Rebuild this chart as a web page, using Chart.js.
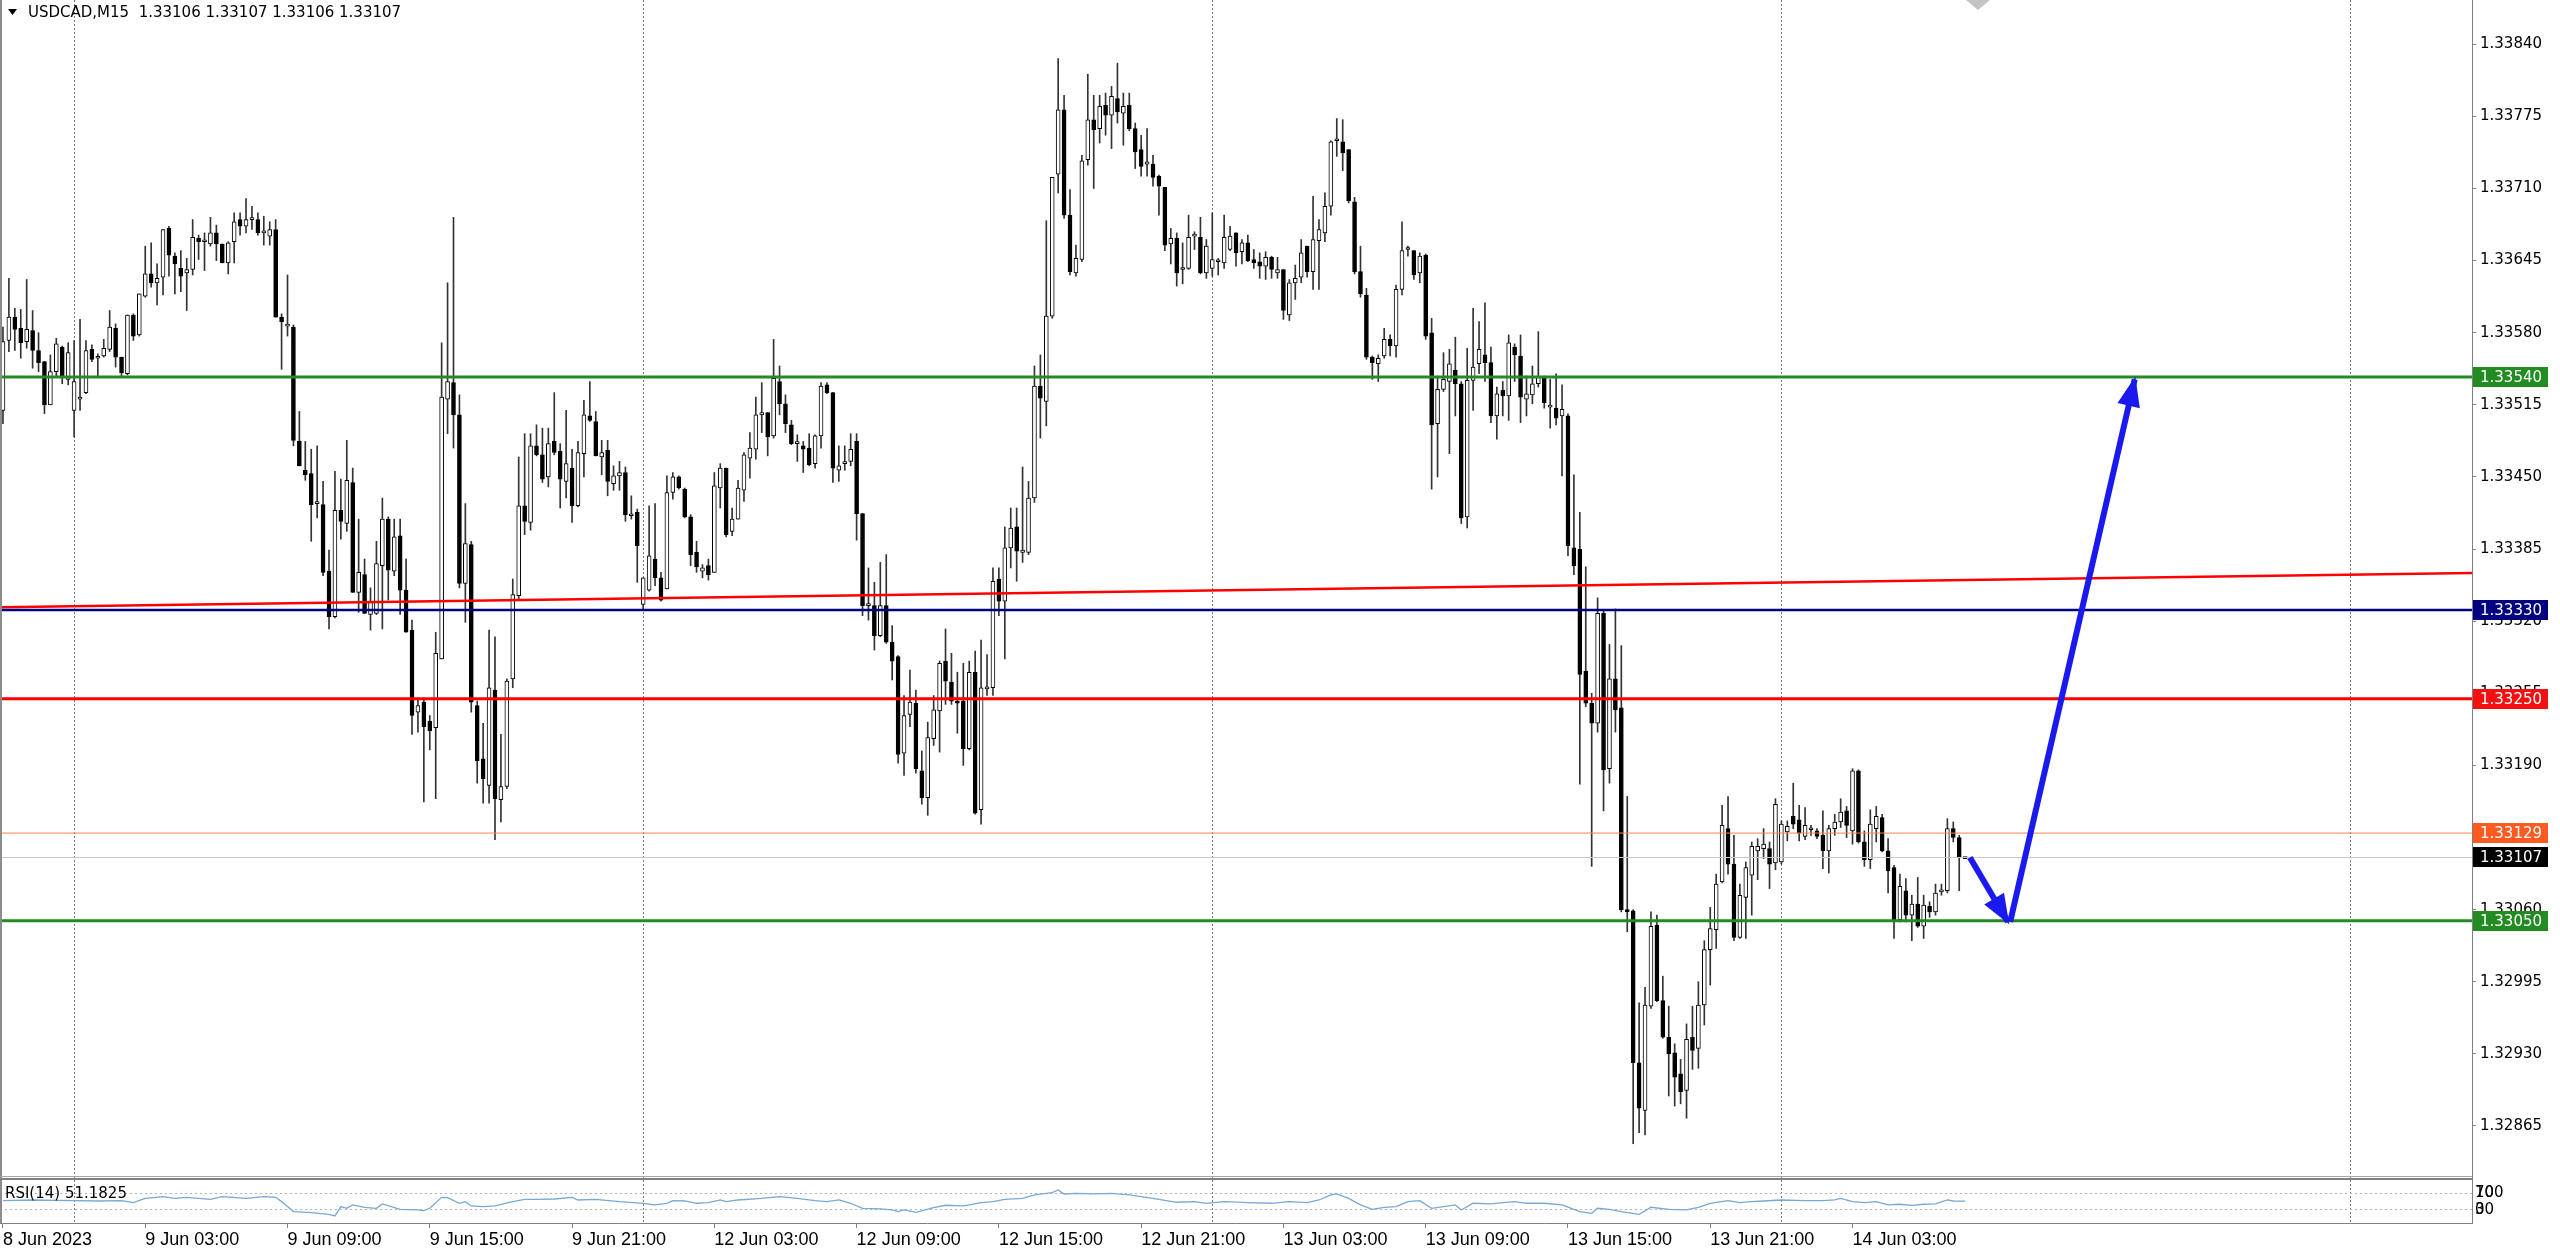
<!DOCTYPE html>
<html lang="en">
<head>
<meta charset="UTF-8">
<title>USDCAD,M15</title>
<script src="https://cdn.jsdelivr.net/npm/chart.js"></script>
<style>
  html, body { margin: 0; padding: 0; background: #fff; overflow: hidden; }
  canvas { display: block; }
</style>
</head>
<body>
<canvas id="chart" width="2560" height="1251"></canvas>
<script>
// USDCAD M15, bar 0 = 8 Jun 21:00, last bar = 14 Jun 07:45
// candle values are points (0.00001) above 1.33000
const BASE = 1.33;
const PT = 0.00001;

const openPts = [
  510,573,594,584,572,582,564,554,515,545, 567,538,510,520,526,565,557,559,565,584,
  558,543,596,578,613,633,625,630,674,649, 638,634,637,665,662,660,670,660,643,662,
  682,676,682,682,670,667,673,594,586,585, 482,456,453,426,425,365,324,420,408,445,
  346,362,326,327,370,412,365,397,348,312, 238,247,230,224,286,520,535,506,354,389,
  244,196,172,258,159,171,268,343,424,409, 478,470,450,482,473,446,458,424,471,505,
  500,468,474,444,451,454,415,418,335,348, 376,359,349,436,450,439,414,382,365,370,
  364,440,458,401,412,438,467,475,506,508, 487,536,516,497,480,478,476,462,487,533,
  526,456,462,464,482,417,334,334,307,334, 301,288,201,236,246,185,161,214,239,284,
  265,248,248,205,274,150,259,260,358,338, 386,405,382,382,431,532,518,595,723,781,
  686,634,646,736,772,764,785,776,791,778, 785,764,745,732,732,721,711,660,665,637,
  638,667,666,634,638,644,643,655,670,653, 661,646,644,640,648,634,637,596,625,630,
  658,635,663,670,694,753,752,745,698,635, 614,558,552,559,574,568,619,655,654,634,
  650,580,498,529,536,546,534,414,537,552, 560,553,505,528,523,567,559,520,524,534,
  540,513,512,505,505,386,385,275,246,228, 327,187,268,242,60,59,-78,-121,-27,46,
  -22,-55,-69,-88,-103,-55,-65,-26,24,42, 85,133,101,35,71,91,113,115,115,102,
  103,130,144,141,126,132,131,127,113,133, 139,149,131,185,121,105,133,143,113,98,
  51,77,55,65,45,63,58,76,77,133, 125,106
];
const highPts = [
  585,629,602,601,628,600,580,554,560,575, 568,571,573,592,573,569,561,574,600,588,
  558,596,597,615,658,661,642,673,676,652, 654,647,682,668,670,684,677,660,662,688,
  688,701,694,688,685,680,682,597,632,587, 509,482,475,478,446,384,455,448,483,458,
  412,376,350,392,431,414,412,412,376,321, 251,251,235,310,571,625,684,524,426,392,
  248,228,312,306,218,268,358,468,489,489, 497,494,494,526,480,510,475,482,519,536,
  509,483,483,460,464,459,433,421,359,424, 426,364,451,454,451,440,416,392,371,376,
  454,462,458,422,447,472,490,522,535,508, 574,550,524,501,488,482,489,488,535,535,
  526,478,478,489,489,417,368,355,373,380, 316,289,253,276,258,203,229,253,284,313,
  291,274,282,284,293,303,290,368,368,405, 422,422,459,446,550,560,681,720,827,794,
  709,659,740,813,794,794,796,802,823,796, 796,769,758,764,740,722,711,674,670,661,
  686,671,684,664,688,647,686,676,670,664, 668,655,652,653,649,648,637,628,641,664,
  658,703,682,706,753,773,772,745,702,658, 620,559,560,584,578,623,680,658,654,652,
  651,593,541,562,565,576,536,566,602,590, 607,567,531,536,578,570,578,541,550,581,
  541,538,543,533,507,452,418,369,255,341, 330,299,331,298,162,60,-24,-10,58,55,
  0,-27,-61,-75,-43,-27,-5,32,62,92, 154,162,127,83,103,121,124,133,121,160,
  140,140,174,154,152,136,133,149,136,146, 160,153,187,186,131,150,153,146,124,100,
  92,88,73,89,73,67,83,83,142,139, 127,107
];
const lowPts = [
  498,563,564,557,566,548,545,507,515,540, 534,533,486,510,525,554,540,558,563,549,
  540,542,573,577,612,621,605,614,631,615, 617,600,632,646,636,658,645,643,633,643,
  668,670,673,668,659,659,594,547,577,478, 460,447,392,413,361,313,323,394,401,346,
  328,327,312,326,313,339,361,326,310,218, 220,157,204,160,286,489,476,350,319,238,
  174,156,156,123,139,169,260,339,398,402, 469,445,441,470,422,431,409,423,450,500,
  469,452,433,438,438,410,412,355,331,347, 352,338,349,430,439,413,370,364,359,357,
  364,422,396,397,412,428,449,466,490,469, 485,506,490,479,464,454,460,458,476,525,
  445,446,456,460,393,325,321,294,306,300, 267,192,181,225,183,155,145,208,202,245,
  245,219,190,204,146,137,253,253,325,286, 368,356,373,380,427,485,496,593,706,683,
  632,631,644,731,710,751,758,746,769,749, 762,728,721,721,712,686,654,642,622,624,
  637,655,633,629,631,632,638,654,640,642, 644,638,629,628,629,629,592,591,610,625,
  630,619,619,662,686,739,726,697,633,612, 556,538,536,557,559,558,614,649,628,625,
  574,439,450,527,471,505,408,404,510,543, 536,499,484,505,501,536,499,505,516,531,
  512,494,497,451,379,362,173,243,99,220, 149,174,220,58,40,-151,-141,-143,-29,-23,
  -56,-108,-117,-115,-128,-84,-83,-44,-8,25, 84,92,32,34,34,55,87,106,79,96,
  101,122,133,122,123,127,124,97,93,127, 134,125,119,120,99,97,121,112,75,34,
  49,49,32,44,34,53,55,73,75,121, 77,106
];
const closePts = [
  572,594,583,571,583,564,553,515,545,570, 540,562,536,522,564,556,557,566,585,558,
  544,596,577,615,633,625,629,673,650,642, 631,637,666,662,662,670,660,643,661,680,
  676,682,682,670,670,673,594,590,586,483, 460,452,425,426,364,324,420,410,447,346,
  364,327,337,372,412,366,396,348,310,235, 244,225,221,291,522,536,506,354,390,247,
  194,178,260,160,171,266,344,424,410,478, 470,448,480,472,448,462,424,472,506,501,
  469,472,446,451,454,416,416,388,359,379, 359,339,436,450,440,414,380,369,368,362,
  442,458,398,412,440,470,476,506,508,486, 539,516,498,480,480,475,461,487,532,526,
  458,460,462,475,417,334,334,307,334,301, 284,200,235,247,187,161,215,240,282,266,
  248,246,205,274,147,260,259,356,338,386, 404,383,384,431,532,521,595,720,781,686,
  635,647,735,772,763,784,776,793,779,784, 764,743,730,734,720,712,659,665,634,637,
  666,667,634,658,646,644,666,667,652,661, 645,643,640,648,637,637,600,625,629,652,
  635,664,673,694,752,753,742,699,635,615, 558,553,557,574,568,619,654,655,632,649,
  577,497,529,538,552,534,413,537,549,565, 553,505,525,523,571,560,522,525,534,541,
  517,513,503,511,388,370,272,246,228,327, 186,268,240,60,58,-78,-119,-26,45,-22,
  -55,-70,-91,-104,-57,-67,-26,24,43,83, 136,101,35,73,98,117,117,119,101,155,
  137,135,137,129,136,132,126,113,133,139, 148,136,185,121,105,137,144,113,95,51,
  81,55,65,45,64,58,75,77,133,125, 107,107
];

// one label every 24 bars, starting at bar 0
const timeLabels = [
  '8 Jun 2023', '9 Jun 03:00', '9 Jun 09:00', '9 Jun 15:00', '9 Jun 21:00',
  '12 Jun 03:00', '12 Jun 09:00', '12 Jun 15:00', '12 Jun 21:00',
  '13 Jun 03:00', '13 Jun 09:00', '13 Jun 15:00', '13 Jun 21:00', '14 Jun 03:00'
];
const priceTicks = [
  1.32865, 1.32930, 1.32995, 1.33060, 1.33125, 1.33190, 1.33255, 1.33320,
  1.33385, 1.33450, 1.33515, 1.33580, 1.33645, 1.33710, 1.33775, 1.33840
];

// RSI(14)
const rsiBars = [
  0,5,12,16,20,22,24,27,29,31, 35,37,41,44,46,47,49,52,55,56,
  57,58,59,61,63,64,67,70,71,72, 74,75,77,78,79,81,83,86,88,90,
  93,96,97,100,104,108,110,112,113,115, 117,119,121,122,124,128,131,134,136,137,
  139,141,143,145,148,150,151,152,154,157, 159,162,163,165,167,169,172,174,177,178,
  179,181,184,187,190,192,195,198,201,203, 206,210,214,217,220,222,224,225,227,229,
  231,233,235,237,239,241,243,245,246,248, 251,253,255,257,260,263,266,268,269,271,
  273,276,278,281,284,286,288,291,293,295, 297,300,304,307,309,310,312,314,316,318,
  320,322,324,326,328,329,331
];
const rsiValues = [
  52.4,54.0,52.4,51.6,52.4,47.7,58.0,62.0,58.0,60.4, 55.6,62.0,58.0,62.0,60.4,50.1,26.1,23.7,19.7,15.7,
  38.1,34.1,42.1,36.5,34.1,44.5,31.7,30.1,28.5,34.1, 60.4,59.6,46.1,50.1,39.7,38.1,39.7,50.1,55.6,55.6,
  56.4,60.4,54.0,55.6,50.1,46.1,42.1,46.1,52.4,51.6, 46.1,47.7,54.0,50.1,54.0,58.0,62.0,58.0,54.0,52.4,
  50.1,54.0,46.1,34.1,32.5,30.1,26.1,30.1,24.5,35.7, 41.3,39.7,42.1,47.7,50.1,55.6,58.0,66.0,71.6,78.0,
  68.4,70.0,68.4,70.0,66.0,62.0,55.6,48.5,50.1,46.1, 50.1,47.7,46.1,50.1,47.7,54.0,66.0,68.4,58.0,42.1,
  31.7,36.5,38.1,50.1,52.4,34.1,38.1,42.1,30.1,46.1, 44.5,47.7,50.1,46.1,46.1,42.1,26.1,22.1,34.1,31.7,
  26.1,19.7,36.5,31.7,30.1,36.5,46.1,52.4,47.7,50.1, 51.6,54.0,52.4,52.4,54.0,58.0,50.1,47.7,50.1,42.1,
  43.7,41.3,43.7,44.5,54.0,51.6,51.1825
];
const rsiTickValues = [70, 70, 30, 30];
const rsiTickLabels = ['100', '70', '30', '0'];

// horizontal levels, trend line and the drawn arrows
const levelPrices = [1.33540, 1.33330, 1.33250, 1.33129, 1.33107, 1.33050];
const trendBars = [-0.5, 416.5];
const trendPrices = [1.333325, 1.333634];
const arrowBars = [[331.8, 338.2], [338.6, 359.6]];
const arrowPrices = [[1.33107, 1.33049], [1.33049, 1.33538]];
const daySeparators = [12, 108, 204, 300, 396];

const SLOTS = 417;
const Y_MIN = 1.328172, Y_MAX = 1.338799;

const levelColors = ['#228b22', '#000080', '#ff0000', '#f8845a', '#c8c8c8', '#228b22'];
const levelWidths = [3, 2.5, 3, 1, 1, 3];
const boxColors = ['#228b22', '#000080', '#f41010', '#ff5a1f', '#000000', '#228b22'];
const ARROW = '#1a1aee';
const FONT = '15px "DejaVu Sans"';

const price = v => BASE + v * PT;
const idx = openPts.map((_, i) => i);

const wickData = idx.map(i => ({ x: i, y: [price(lowPts[i]), price(highPts[i])] }));
const bodyData = idx.map(i => ({ x: i, y: [price(openPts[i]), price(closePts[i])] }));
const bodyFill = idx.map(i => closePts[i] >= openPts[i] ? '#ffffff' : '#000000');

const datasets = [
  { type: 'bar', data: wickData, backgroundColor: '#333333', borderWidth: 0,
    barThickness: 1, grouped: false, order: 5 },
  { type: 'bar', data: bodyData, backgroundColor: bodyFill, borderColor: '#000000',
    borderWidth: 1, borderSkipped: false, barThickness: 4, minBarLength: 2, grouped: false, order: 4 }
];
levelPrices.forEach((p, i) => datasets.push({
  type: 'line', data: [{ x: -0.5, y: p }, { x: SLOTS - 0.5, y: p }],
  borderColor: levelColors[i], borderWidth: levelWidths[i], pointRadius: 0, order: levelWidths[i] > 1 ? 2 : 3
}));
datasets.push({
  type: 'line', data: trendBars.map((b, i) => ({ x: b, y: trendPrices[i] })),
  borderColor: '#ff0000', borderWidth: 2.5, pointRadius: 0, order: 2
});
arrowBars.forEach((bs, k) => datasets.push({
  type: 'line', data: bs.map((b, i) => ({ x: b, y: arrowPrices[k][i] })),
  borderColor: ARROW, borderWidth: 6, pointRadius: 0, order: 1, arrowHead: true
}));
datasets.push({
  type: 'line', yAxisID: 'yRsi', data: rsiBars.map((b, i) => ({ x: b, y: rsiValues[i] })),
  borderColor: '#78a8d4', borderWidth: 1.3, pointRadius: 0, order: 0
});

const fmt = v => price(v).toFixed(5);

const decor = {
  id: 'decor',
  beforeDraw(chart) {
    const { ctx, width, height } = chart;
    ctx.save();
    ctx.fillStyle = '#ffffff';
    ctx.fillRect(0, 0, width, height);
    ctx.restore();
  },
  afterDatasetsDraw(chart) {
    const ctx = chart.ctx;
    chart.data.datasets.forEach((ds, di) => {
      if (!ds.arrowHead) return;
      const pts = chart.getDatasetMeta(di).data;
      const a = pts[pts.length - 2], b = pts[pts.length - 1];
      const ang = Math.atan2(b.y - a.y, b.x - a.x);
      const len = 26, half = 10;
      const bx = b.x - len * Math.cos(ang), by = b.y - len * Math.sin(ang);
      ctx.save();
      ctx.fillStyle = ds.borderColor;
      ctx.strokeStyle = ds.borderColor;
      ctx.lineWidth = 2;
      ctx.beginPath();
      ctx.moveTo(b.x, b.y);
      ctx.lineTo(bx + half * Math.sin(ang), by - half * Math.cos(ang));
      ctx.lineTo(bx - half * Math.sin(ang), by + half * Math.cos(ang));
      ctx.closePath();
      ctx.fill();
      ctx.stroke();
      ctx.restore();
    });
  },
  afterDraw(chart) {
    const { ctx, chartArea: area } = chart;
    const ys = chart.scales.y, yr = chart.scales.yRsi;
    ctx.save();

    // window frame and pane separator
    ctx.fillStyle = '#8c8c8c';
    ctx.fillRect(0, 0, 2, area.bottom);
    ctx.fillStyle = '#a6a6a6';
    ctx.fillRect(0, ys.bottom - 3, area.right, 1);
    ctx.fillStyle = '#808080';
    ctx.fillRect(0, ys.bottom - 1, area.right, 2);

    // chart shift marker
    ctx.fillStyle = '#c4c4c4';
    ctx.beginPath();
    ctx.moveTo(1966, 0); ctx.lineTo(1990, 0); ctx.lineTo(1978, 10);
    ctx.closePath(); ctx.fill();

    ctx.font = FONT;
    ctx.textBaseline = 'middle';
    ctx.textAlign = 'left';

    // symbol header
    ctx.fillStyle = '#000';
    ctx.beginPath();
    ctx.moveTo(8, 9); ctx.lineTo(17, 9); ctx.lineTo(12.5, 15);
    ctx.closePath(); ctx.fill();
    const last = openPts.length - 1;
    ctx.fillText('USDCAD,M15  ' + fmt(openPts[last]) + ' ' + fmt(highPts[last]) + ' ' +
      fmt(lowPts[last]) + ' ' + fmt(closePts[last]), 28, 13);

    // indicator caption
    ctx.fillText('RSI(14) ' + rsiValues[rsiValues.length - 1].toFixed(4), 5, yr.top + 15);

    // price labels on the axis
    levelPrices.forEach((p, i) => {
      const y = Math.round(ys.getPixelForValue(p));
      ctx.fillStyle = boxColors[i];
      ctx.fillRect(area.right + 1, y - 10, 75, 20);
      ctx.fillStyle = '#ffffff';
      ctx.fillText(p.toFixed(5), area.right + 8, y + 1);
    });
    ctx.restore();
  }
};

Chart.defaults.font.family = 'DejaVu Sans';
Chart.defaults.font.size = 15;
Chart.defaults.color = '#000';

new Chart(document.getElementById('chart').getContext('2d'), {
  type: 'bar',
  data: { datasets },
  options: {
    responsive: false,
    animation: false,
    devicePixelRatio: 1,
    events: [],
    layout: { padding: 0 },
    plugins: { legend: { display: false }, tooltip: { enabled: false } },
    scales: {
      x: {
        type: 'linear', position: 'bottom', min: -0.5, max: SLOTS - 0.5, offset: false,
        afterBuildTicks: s => {
          const t = [];
          for (let v = 0; v < SLOTS; v += 12) t.push({ value: v });
          s.ticks = t;
        },
        afterFit: s => { s.height = 28; s.paddingLeft = 0; s.paddingRight = 0; },
        ticks: {
          autoSkip: false, maxRotation: 0, minRotation: 0, align: 'start', padding: 1,
          color: '#000', font: { family: 'Liberation Sans', size: 18 },
          callback: v => (v % 24 === 0 && timeLabels[v / 24]) || ''
        },
        grid: {
          display: true, offset: false, drawOnChartArea: true, drawTicks: true, tickLength: 5, lineWidth: 1,
          color: c => (c.tick && daySeparators.includes(c.tick.value)) ? '#7a7a7a' : 'rgba(0,0,0,0)',
          tickColor: c => (c.tick && c.tick.value % 24 === 0 && c.tick.value <= 312) ? '#808080' : 'rgba(0,0,0,0)'
        },
        border: { display: true, color: '#808080', width: 1, dash: [2, 2] }
      },
      y: {
        type: 'linear', position: 'right', stack: 'pane', stackWeight: 1179, min: Y_MIN, max: Y_MAX,
        afterBuildTicks: s => { s.ticks = priceTicks.map(v => ({ value: v })); },
        afterFit: s => { s.width = 88; s.paddingTop = 0; s.paddingBottom = 0; },
        ticks: { autoSkip: false, padding: 4, color: '#000', font: { size: 15 }, callback: v => v.toFixed(5) },
        grid: { display: true, drawOnChartArea: false, drawTicks: true, tickLength: 4, color: '#808080' },
        border: { display: true, color: '#808080', width: 1 }
      },
      yRsi: {
        type: 'linear', position: 'right', stack: 'pane', stackWeight: 44, min: -1.2, max: 104.3,
        afterBuildTicks: s => { s.ticks = rsiTickValues.map(v => ({ value: v })); },
        afterFit: s => { s.width = 88; s.paddingTop = 0; s.paddingBottom = 0; },
        ticks: { autoSkip: false, padding: 3, color: '#000', font: { size: 15 }, callback: (v, i) => rsiTickLabels[i] },
        grid: { display: true, drawOnChartArea: true, drawTicks: false, color: '#b4b4b4' },
        border: { display: true, color: '#808080', width: 1, dash: [2, 3] }
      }
    }
  },
  plugins: [decor]
});
</script>
</body>
</html>
